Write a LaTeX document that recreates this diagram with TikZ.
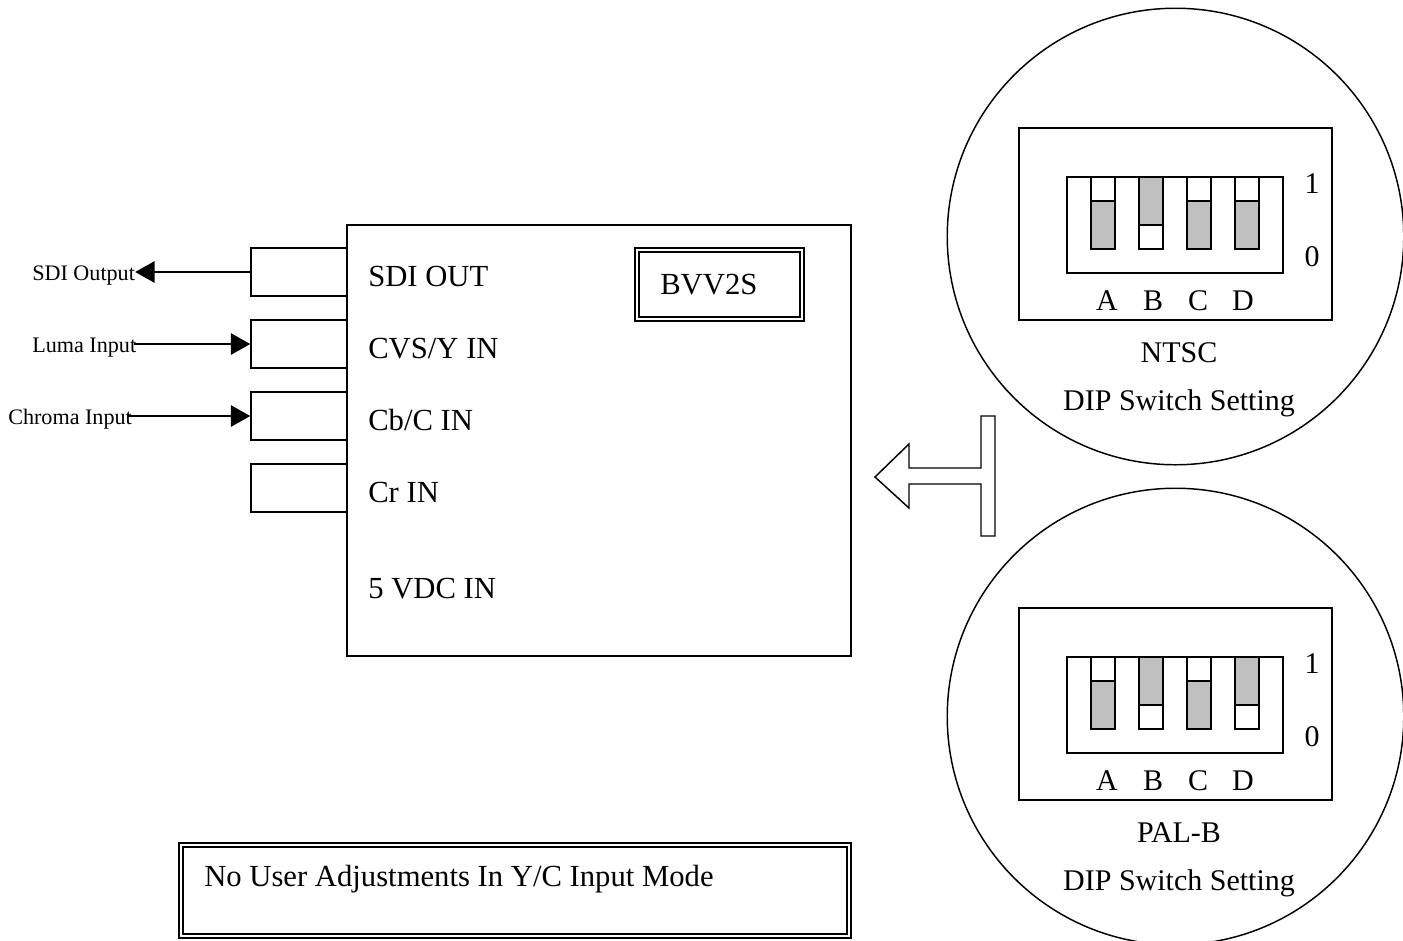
\documentclass[tikz,border=0pt]{standalone}
\usepackage{fontspec}
\setmainfont{Liberation Serif}
\usetikzlibrary{arrows.meta,calc}
\definecolor{swgray}{RGB}{192,192,192}
\tikzset{
  x=0.75pt,y=-0.75pt,
  ln/.style={draw=black,line width=1.1pt,line join=miter},
  big/.style={font=\fontsize{23pt}{24pt}\selectfont,inner sep=0pt,anchor=base west},
  mid/.style={font=\fontsize{22.5pt}{24pt}\selectfont,inner sep=0pt,anchor=base},
  small/.style={font=\fontsize{16.6pt}{18pt}\selectfont,inner sep=0pt,anchor=base west},
  conn/.style={draw=black,line width=1.1pt,-{Triangle[length=14.5pt,width=16pt]}},
}
\newcommand{\dipset}[6]{% yoffset, A,B,C,D split y offsets (201 or 225), caption
  \begin{scope}[yshift=-0.75pt*#1]
    \path[ln] (1019,128) rectangle (1332,320);
    \path[ln] (1067,177) rectangle (1283,273);
    \foreach \sx/\sp/\kind in {1091/#2,1139/#3,1187/#4,1235/#5}{
      \ifnum\sp=201
        \path[ln,fill=white] (\sx,177) rectangle (\sx+24,201);
        \path[ln,fill=swgray] (\sx,201) rectangle (\sx+24,249);
      \else
        \path[ln,fill=swgray] (\sx,177) rectangle (\sx+24,225);
        \path[ln,fill=white] (\sx,225) rectangle (\sx+24,249);
      \fi
    }
    \node[mid] at (1312,193) {1};
    \node[mid] at (1312,266) {0};
    \node[mid] at (1107,310) {A};
    \node[mid] at (1153,310) {B};
    \node[mid] at (1198,310) {C};
    \node[mid] at (1243,310) {D};
    \node[mid] at (1179,362) {#6};
    \node[mid] at (1179,410) {DIP Switch Setting};
  \end{scope}
}
\begin{document}
\begin{tikzpicture}
\useasboundingbox (0,0) rectangle (1403,940);
\begin{scope}
  \clip (0,0) rectangle (1403,940);
  \path[ln] (1175.5,236.5) circle [radius=171.2pt];
  \path[ln] (1175.5,716.5) circle [radius=171.2pt];
\end{scope}
% main block
\node[ln,minimum width=378pt,minimum height=323.25pt,inner sep=0pt] (main) at (599,440.5) {};
% ports
\node[ln,minimum width=72pt,minimum height=36pt,inner sep=0pt] (p1) at (299,272) {};
\node[ln,minimum width=72pt,minimum height=36pt,inner sep=0pt] (p2) at (299,344) {};
\node[ln,minimum width=72pt,minimum height=36pt,inner sep=0pt] (p3) at (299,416) {};
\node[ln,minimum width=72pt,minimum height=36pt,inner sep=0pt] (p4) at (299,488) {};
\node[big] (t1) at (368,286) {SDI OUT};
\node[big] (t2) at (368,358) {CVS/Y IN};
\node[big] (t3) at (368,430) {Cb/C IN};
\node[big] (t4) at (368,502) {Cr IN};
\node[big] (t5) at (368,598) {5 VDC IN};
% labels
\node[small] (sdi) at (32,280) {SDI Output};
\node[small] (luma) at (32,352) {Luma Input};
\node[small] (chroma) at (8,424) {Chroma Input};
\draw[conn] (p1.west) -- (p1.west -| sdi.east);
\draw[conn] (p2.west -| luma.east) ++(-2,0) -- (p2.west);
\draw[conn] (p3.west -| chroma.east) ++(-4,0) -- (p3.west);
% BVV2S
\node[ln,minimum width=126.75pt,minimum height=54.75pt,inner sep=0pt] (bo) at (719.5,284.5) {};
\node[ln,line width=0.9pt,minimum width=120.75pt,minimum height=48.75pt,inner sep=0pt] (bi) at (719.5,284.5) {};
\node[big] (bt) at (660,294) {BVV2S};
% note
\node[ln,minimum width=504pt,minimum height=71.25pt,inner sep=0pt] (no) at (515,890.5) {};
\node[ln,line width=0.9pt,minimum width=498pt,minimum height=65.25pt,inner sep=0pt] (ni) at (515,890.5) {};
\node[big] (nt) at (204,886) {No User Adjustments In Y/C Input Mode};
% block arrow
\path[ln] (875,477) -- (909,444) -- (909,468) -- (981,468) -- (981,416) -- (995,416) -- (995,536) -- (981,536) -- (981,484) -- (909,484) -- (909,508) -- cycle;
% DIP panels
\dipset{0}{201}{225}{201}{201}{NTSC}
\dipset{480}{201}{225}{201}{225}{PAL-B}
\end{tikzpicture}
\end{document}
